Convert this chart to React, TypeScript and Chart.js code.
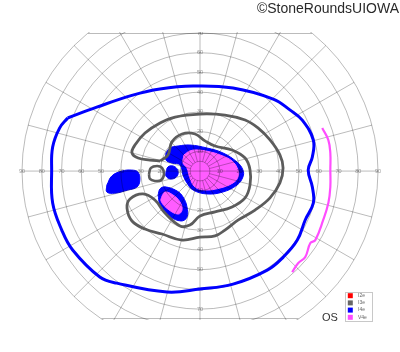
import React, { useEffect, useRef } from "react";
import { Chart, registerables } from "chart.js";

Chart.register(...registerables);

type Pt = [number, number];

// ---- grid definition (degrees of eccentricity) ----
const ringEccentricities = [10, 20, 30, 40, 50, 60, 70, 80, 90];
const innerRing = 5;
const meridians = [0, 15, 30, 45, 60, 75, 90, 105, 120, 135, 150, 165, 180, 195, 210, 225, 240, 255, 270, 285, 300, 315, 330, 345];
const horizontalTickLabels = [10, 20, 30, 40, 50, 60, 70, 80, 90];
const verticalTickLabels = [10, 20, 30, 40, 50, 60, 70];
const legendLabels = ["I2e", "I3e", "I4e", "V4e"];
const legendColors = ["#ff0000", "#666666", "#0000ff", "#ff4dff"];
const eyeLabel = "OS";
const copyrightText = "\u00A9StoneRoundsUIOWA";

// ---- isopters, [x, y] in degrees (x: right +, y: up +) ----
const i4eOuter: Pt[] = [
  [-66.9, 26.9], [-52.2, 32.4], [-34.0, 38.5], [-20.3, 41.6], [-3.5, 43.1], [16.7, 42.1],
  [37.0, 36.5], [45.6, 30.9], [51.7, 25.8], [57.3, 15.7], [56.8, 7.1], [54.7, 0.5],
  [56.8, -8.1], [57.3, -16.2], [53.2, -24.8], [49.2, -35.0], [42.1, -43.6], [34.0, -50.2],
  [16.7, -57.3], [0, -59.8], [-16.7, -61.3], [-42.1, -56.8], [-50.7, -53.7], [-64.4, -40.0],
  [-69.9, -29.9], [-74.5, -16.2], [-75.0, 0.5], [-74.5, 12.2], [-71.0, 21.8],
];
const v4ePeripheral: Pt[] = [
  [61.8, 21.8], [64.9, 15.7], [65.9, 9.1], [65.9, 0.5], [65.9, -8.1], [64.9, -16.2],
  [62.3, -24.8], [58.3, -35.0], [55.8, -36.5], [53.2, -43.6], [49.7, -46.6], [46.6, -51.2],
];
const i3eMain: Pt[] = [
  [-20.2, 5.1], [-25.3, 5.6], [-31.3, 6.6], [-34.4, 9.2], [-32.9, 13.2], [-27.8, 19.3],
  [-20.2, 24.4], [-12.6, 27.4], [0, 28.9], [12.6, 28.4], [22.8, 25.9], [29.3, 21.9],
  [35.4, 15.8], [40.4, 8.2], [42.0, 1.6], [40.4, -6.0], [35.4, -13.6], [27.8, -19.8],
  [19.2, -24.9], [12.6, -29.9], [7.6, -32.9], [0, -33.5], [-9.1, -35.0], [-19.2, -31.9],
  [-27.8, -29.4], [-34.4, -25.3], [-36.9, -18.8], [-35.4, -14.2], [-28.8, -11.6], [-22.8, -14.7],
  [-17.7, -21.3], [-10.1, -27.8], [-5.1, -27.4], [0, -22.8], [7.6, -20.7], [16.2, -18.2],
  [22.8, -13.6], [25.3, -7.0], [25.3, 0.6], [22.8, 6.6], [16.2, 10.7], [7.6, 12.7],
  [2.5, 15.3], [-2.5, 18.8], [-9.1, 18.8], [-14.2, 14.8], [-16.2, 8.2],
];
const i3eIsland: Pt[] = [
  [-25.8, -1.5], [-24.8, 1.6], [-21.7, 2.6], [-19.2, 1.6], [-18.2, -1.5], [-19.7, -4.6],
  [-22.8, -5.0], [-25.3, -4.0],
];
const i4eCentral: Pt[] = [
  [-17.2, 9.2], [-15.2, 11.7], [-11.1, 12.7], [-5.1, 13.2], [3.5, 11.7], [11.6, 9.2],
  [18.7, 4.6], [21.7, 0.6], [21.7, -3.0], [18.7, -7.1], [11.6, -10.6], [3.5, -11.6],
  [-3.5, -9.6], [-6.6, -6.0], [-8.6, -2.0], [-10.1, 3.1], [-14.2, 4.1], [-17.2, 5.6],
];
const i4eSmall: Pt[] = [
  [-17.2, -0.5], [-16.2, 2.1], [-13.7, 2.6], [-11.6, 1.1], [-11.1, -1.5], [-12.6, -3.5],
  [-15.2, -4.0], [-17.2, -2.5],
];
const i4eLeft: Pt[] = [
  [-47.1, -7.1], [-44.6, -2.5], [-39.5, 0], [-34.5, 0.5], [-31.4, -0.5], [-30.4, -4.6],
  [-31.9, -8.1], [-36.5, -9.6], [-43.1, -11.2], [-47.1, -10.6],
];
const i4eLower: Pt[] = [
  [-21.2, -12.1], [-20.2, -9.0], [-17.7, -8.0], [-11.6, -10.1], [-8.6, -13.1], [-6.6, -18.1],
  [-6.6, -23.4], [-9.6, -25.3], [-15.2, -22.9], [-20.2, -16.8],
];
const v4eCentral: Pt[] = [
  [-8.1, 8.2], [-5.1, 10.2], [-1.0, 10.7], [5.1, 9.7], [10.1, 8.2], [16.2, 5.1],
  [19.2, 0.6], [19.2, -3.0], [16.7, -6.0], [10.1, -8.6], [2.5, -9.6], [-2.5, -8.1],
  [-5.1, -3.5], [-6.6, 1.6], [-8.6, 4.1],
];
const v4eLower: Pt[] = [
  [-19.2, -12.7], [-17.7, -10.6], [-13.7, -12.1], [-10.1, -15.7], [-9.1, -19.8], [-11.1, -21.8],
  [-16.2, -19.3], [-19.7, -15.2],
];

const BLUE = "#0000ff";
const GRAY = "#5c5c5c";
const PINK = "#ff4dff";
const PINK_FILL = "#ff5cff";

const open = (pts: Pt[]) => pts.map(([x, y]) => ({ x, y }));
const closed = (pts: Pt[]) => open([...pts, pts[0]]);

function drawGrid(chart: any) {
  const { ctx, chartArea } = chart;
  const xs = chart.scales.x;
  const ys = chart.scales.y;
  const cx = xs.getPixelForValue(0);
  const cy = ys.getPixelForValue(0);
  const kx = xs.getPixelForValue(1) - cx;
  const ky = cy - ys.getPixelForValue(1);
  const P = (dx: number, dy: number) => [cx + dx * kx, cy - dy * ky];
  const outer = ringEccentricities[ringEccentricities.length - 1];
  ctx.save();
  ctx.beginPath();
  ctx.rect(0, chartArea.top - 1, chart.width, chartArea.bottom - chartArea.top + 2);
  ctx.clip();
  ctx.globalCompositeOperation = "multiply";
  ctx.strokeStyle = "#bbbbbb";
  ctx.lineWidth = 1;
  [innerRing, ...ringEccentricities].forEach((r) => {
    ctx.beginPath();
    ctx.ellipse(cx, cy, r * kx, r * ky, 0, 0, Math.PI * 2);
    ctx.stroke();
  });
  meridians.forEach((a) => {
    const r0 = a % 90 === 0 ? 0 : innerRing;
    const t = (a * Math.PI) / 180;
    const [x0, y0] = P(r0 * Math.cos(t), r0 * Math.sin(t));
    const [x1, y1] = P(outer * Math.cos(t), outer * Math.sin(t));
    ctx.beginPath();
    ctx.moveTo(x0, y0);
    ctx.lineTo(x1, y1);
    ctx.stroke();
  });
  [ys.max, ys.min].forEach((d: number, i: number) => {
    const half = Math.sqrt(outer * outer - d * d);
    const py = i === 0 ? chartArea.top + 0.5 : chartArea.bottom - 0.5;
    ctx.beginPath();
    ctx.moveTo(cx - half * kx, py);
    ctx.lineTo(cx + half * kx, py);
    ctx.stroke();
  });
  ctx.fillStyle = "#999999";
  ctx.font = "5.5px 'Liberation Sans', Arial, sans-serif";
  ctx.textAlign = "center";
  ctx.textBaseline = "middle";
  horizontalTickLabels.forEach((v) => {
    ctx.fillText(String(v), cx - v * kx, cy);
    ctx.fillText(String(v), cx + v * kx, cy);
  });
  verticalTickLabels.forEach((v) => {
    ctx.fillText(String(v), cx, cy - v * ky);
    ctx.fillText(String(v), cx, cy + v * ky);
  });
  ctx.restore();
}

const gridPlugin = {
  id: "gvfGrid",
  beforeDraw(chart: any) {
    chart.$gridDone = false;
  },
  beforeDatasetDraw(chart: any, args: any) {
    if (!chart.$gridDone && args.meta.order <= 1) {
      drawGrid(chart);
      chart.$gridDone = true;
    }
  },
  afterDatasetsDraw(chart: any) {
    if (!chart.$gridDone) {
      drawGrid(chart);
      chart.$gridDone = true;
    }
  },
  afterDraw(chart: any) {
    const { ctx } = chart;
    ctx.save();
    ctx.fillStyle = "#2a2a2a";
    ctx.font = "14px 'Liberation Sans', Arial, sans-serif";
    ctx.textAlign = "right";
    ctx.textBaseline = "alphabetic";
    ctx.fillText(copyrightText, 399, 13);
    ctx.font = "11px 'Liberation Sans', Arial, sans-serif";
    ctx.textAlign = "left";
    ctx.fillStyle = "#333333";
    ctx.fillText(eyeLabel, 322, 321);
    const bx = 345.5, by = 292.5, bw = 27, bh = 29;
    ctx.fillStyle = "#ffffff";
    ctx.fillRect(bx, by, bw, bh);
    ctx.strokeStyle = "#c8c8c8";
    ctx.lineWidth = 1;
    ctx.strokeRect(bx, by, bw, bh);
    ctx.font = "5px 'Liberation Sans', Arial, sans-serif";
    ctx.textBaseline = "middle";
    legendLabels.forEach((lab, i) => {
      const yy = 295.7 + i * 7.2;
      ctx.fillStyle = legendColors[i];
      ctx.fillRect(347.8, yy - 2.5, 5, 5);
      ctx.fillStyle = "#666666";
      ctx.fillText(lab, 358, yy);
    });
    ctx.restore();
  },
};

export default function App() {
  const ref = useRef<HTMLCanvasElement | null>(null);
  useEffect(() => {
    if (!ref.current) return;
    const lineDs = (data: any[], color: string, width: number) => ({
      data,
      showLine: true,
      borderColor: color,
      borderWidth: width,
      pointRadius: 0,
      tension: 0.4,
      fill: false,
      order: 1,
    });
    const fillDs = (data: any[], color: string, order: number) => ({
      data,
      showLine: true,
      borderColor: color,
      backgroundColor: color,
      borderWidth: 1,
      pointRadius: 0,
      tension: 0.4,
      fill: "shape",
      order,
    });
    const chart = new Chart(ref.current, {
      type: "scatter",
      data: {
        datasets: [
          lineDs(closed(i4eOuter), BLUE, 3),
          lineDs(open(v4ePeripheral), PINK, 2.2),
          lineDs(closed(i3eMain), GRAY, 2.8),
          lineDs(closed(i3eIsland), GRAY, 2.6),
          fillDs(closed(v4eCentral), PINK_FILL, 2),
          fillDs(closed(v4eLower), PINK_FILL, 2),
          fillDs(closed(i4eCentral), BLUE, 3),
          fillDs(closed(i4eSmall), BLUE, 3),
          fillDs(closed(i4eLeft), BLUE, 3),
          fillDs(closed(i4eLower), BLUE, 3),
        ] as any,
      },
      options: {
        responsive: false,
        maintainAspectRatio: false,
        animation: false,
        layout: { padding: { left: 22, right: 22, top: 33, bottom: 33 } },
        scales: {
          x: { type: "linear", min: -90, max: 90, display: false },
          y: { type: "linear", min: -75, max: 70, display: false },
        },
        plugins: {
          legend: { display: false },
          tooltip: { enabled: false },
          title: { display: false },
        },
        events: [],
      },
      plugins: [gridPlugin],
    });
    return () => chart.destroy();
  }, []);
  return (
    <div style={{ position: "absolute", left: 0, top: 0, width: 400, height: 352, background: "#fff" }}>
      <canvas ref={ref} width={400} height={352} />
    </div>
  );
}
